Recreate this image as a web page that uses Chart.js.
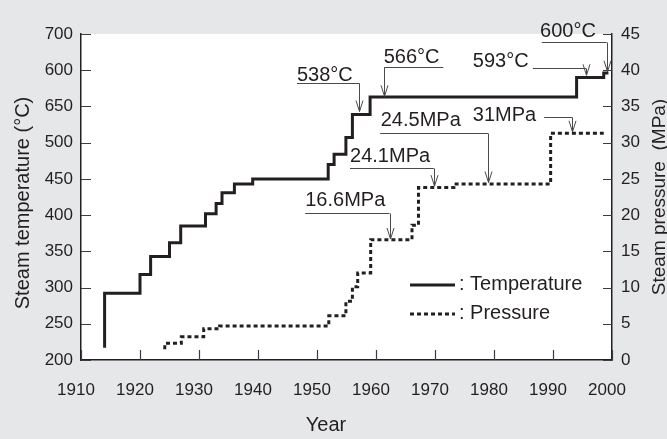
<!DOCTYPE html>
<html>
<head>
<meta charset="utf-8">
<script src="https://cdn.jsdelivr.net/npm/chart.js@4.4.0/dist/chart.umd.min.js"></script>
<style>
  html, body { margin: 0; padding: 0; background: #e6e7e8; }
  #wrap { position: relative; width: 667px; height: 439px; }
</style>
</head>
<body>
<div id="wrap"><canvas id="steamChart"></canvas></div>
<script>
// step data (value holds until the next year)
const tempYears = [1914, 1914, 1920, 1921.8, 1925, 1926.9, 1931.1, 1932.9, 1933.9, 1936, 1939.1, 1951.9, 1952.9, 1954.9, 1956, 1959, 1994, 1998.6, 1999.4];
const tempValues = [217, 292, 318, 343, 362, 385, 402, 416, 431, 443, 450, 470, 484, 507, 539, 563, 590, 596, 596];

const pressYears = [1924.2, 1924.2, 1927, 1930.8, 1933.5, 1952, 1954.9, 1956, 1956.9, 1959.1, 1966.1, 1967.2, 1973.2, 1989.6, 1998.6];
const pressValues = [1.5, 2.3, 3.2, 4.3, 4.7, 6.1, 8.1, 10.1, 12.0, 16.6, 18.6, 23.8, 24.3, 31.3, 31.3];

// left axis labels exactly as printed on the figure
const tempTickLabels = ['200', '250', '300', '350', '400', '450', '500', '650', '600', '700'];

// callouts, anchored in data units
const callouts = [
  { text: '538°C', axis: 'y', textX: 1946.6, textY: 593, lineFrom: 1946.6, lineTo: 1957.2, lineY: 583, dropX: 1957.2, tipY: 543 },
  { text: '566°C', axis: 'y', textX: 1961.3, textY: 617, lineFrom: 1961.4, lineTo: 1971.4, lineY: 605, dropX: 1961.4, tipY: 564 },
  { text: '593°C', axis: 'y', textX: 1976.4, textY: 612, lineFrom: 1986.6, lineTo: 1995.6, lineY: 603, dropX: 1995.6, tipY: 593 },
  { text: '600°C', axis: 'y', textX: 1987.8, textY: 653, lineFrom: 1988.1, lineTo: 1999.1, lineY: 639, dropX: 1999.1, tipY: 598 },
  { text: '31MPa', axis: 'y1', textX: 1976.4, textY: 33.8, lineFrom: 1988.5, lineTo: 1993.3, lineY: 33.6, dropX: 1993.3, tipY: 31.5 },
  { text: '24.5MPa', axis: 'y1', textX: 1960.8, textY: 33.0, lineFrom: 1960.7, lineTo: 1979.0, lineY: 31.3, dropX: 1979.0, tipY: 24.5 },
  { text: '24.1MPa', axis: 'y1', textX: 1955.6, textY: 28.1, lineFrom: 1955.6, lineTo: 1969.8, lineY: 26.5, dropX: 1969.8, tipY: 24.0 },
  { text: '16.6MPa', axis: 'y1', textX: 1948.0, textY: 22.0, lineFrom: 1948.0, lineTo: 1962.3, lineY: 20.25, dropX: 1962.3, tipY: 16.7 }
];

const ink = '#231f20';
const fontFamily = '"Liberation Sans", Arial, Helvetica, sans-serif';

function toPoints(xs, ys) {
  return xs.map((x, i) => ({ x: x, y: ys[i] }));
}

// white plot area on the grey page
const plotBackground = {
  id: 'plotBackground',
  beforeDraw(chart) {
    const { ctx, chartArea } = chart;
    ctx.save();
    ctx.fillStyle = '#ffffff';
    ctx.fillRect(chartArea.left, chartArea.top, chartArea.right - chartArea.left, chartArea.bottom - chartArea.top);
    ctx.restore();
  }
};

// tick marks pointing into the plot
const innerTicks = {
  id: 'innerTicks',
  afterDatasetsDraw(chart) {
    const { ctx, chartArea, scales } = chart;
    ctx.save();
    ctx.strokeStyle = '#3c3c3c';
    ctx.lineWidth = 1.2;
    ctx.beginPath();
    scales.x.ticks.forEach(t => {
      const px = Math.round(scales.x.getPixelForValue(t.value)) + 0.5;
      ctx.moveTo(px, chartArea.bottom);
      ctx.lineTo(px, chartArea.bottom - 10);
    });
    scales.y.ticks.forEach(t => {
      const py = Math.round(scales.y.getPixelForValue(t.value)) + 0.5;
      ctx.moveTo(chartArea.left, py);
      ctx.lineTo(chartArea.left + 10, py);
    });
    scales.y1.ticks.forEach(t => {
      const py = Math.round(scales.y1.getPixelForValue(t.value)) + 0.5;
      ctx.moveTo(chartArea.right, py);
      ctx.lineTo(chartArea.right - 9, py);
    });
    ctx.stroke();
    ctx.restore();
  }
};

const calloutLabels = {
  id: 'calloutLabels',
  afterDatasetsDraw(chart) {
    const { ctx, scales } = chart;
    const x = scales.x;
    ctx.save();
    ctx.font = '20px ' + fontFamily;
    ctx.textBaseline = 'middle';
    ctx.textAlign = 'left';
    callouts.forEach(c => {
      const y = scales[c.axis];
      ctx.fillStyle = ink;
      ctx.fillText(c.text, x.getPixelForValue(c.textX), y.getPixelForValue(c.textY));
      const lineY = Math.round(y.getPixelForValue(c.lineY)) + 0.5;
      const dropX = Math.round(x.getPixelForValue(c.dropX)) + 0.5;
      const tipY = y.getPixelForValue(c.tipY);
      ctx.strokeStyle = '#4a4a4a';
      ctx.lineWidth = 1;
      ctx.beginPath();
      ctx.moveTo(x.getPixelForValue(c.lineFrom), lineY);
      ctx.lineTo(x.getPixelForValue(c.lineTo), lineY);
      ctx.moveTo(dropX, lineY);
      ctx.lineTo(dropX, tipY);
      ctx.moveTo(dropX - 3.5, tipY - 11);
      ctx.lineTo(dropX, tipY);
      ctx.lineTo(dropX + 3.5, tipY - 11);
      ctx.stroke();
    });
    ctx.restore();
  }
};

// legend inside the plot and the three axis titles
const legendAndTitles = {
  id: 'legendAndTitles',
  afterDraw(chart) {
    const { ctx, chartArea } = chart;
    ctx.save();
    ctx.fillStyle = ink;
    ctx.font = '20px ' + fontFamily;
    ctx.textBaseline = 'middle';
    ctx.textAlign = 'left';
    const lx = chartArea.left + 329;
    const rows = [chartArea.top + 250, chartArea.top + 279];
    chart.data.datasets.forEach((ds, i) => {
      ctx.strokeStyle = ink;
      ctx.lineWidth = 3;
      ctx.setLineDash(ds.borderDash || []);
      ctx.beginPath();
      ctx.moveTo(lx, rows[i] + 1);
      ctx.lineTo(lx + 45, rows[i] + 1);
      ctx.stroke();
      ctx.setLineDash([]);
      ctx.fillText(ds.label, lx + 49, rows[i]);
    });

    ctx.textBaseline = 'alphabetic';
    ctx.textAlign = 'center';
    ctx.fillText('Year', 326, 431);

    ctx.translate(29, 203);
    ctx.rotate(-Math.PI / 2);
    ctx.fillText('Steam temperature (°C)', 0, 0);
    ctx.restore();

    ctx.save();
    ctx.fillStyle = ink;
    ctx.font = '19px ' + fontFamily;
    ctx.textAlign = 'center';
    ctx.translate(665, 197);
    ctx.rotate(-Math.PI / 2);
    ctx.fillText('Steam pressure  (MPa)', 0, 0);
    ctx.restore();
  }
};

const tickFont = { family: fontFamily, size: 17 };

new Chart(document.getElementById('steamChart'), {
  type: 'line',
  data: {
    datasets: [{
      label: ': Temperature',
      data: toPoints(tempYears, tempValues),
      yAxisID: 'y',
      stepped: 'before',
      borderColor: ink,
      borderWidth: 3,
      pointRadius: 0,
      fill: false
    }, {
      label: ': Pressure',
      data: toPoints(pressYears, pressValues),
      yAxisID: 'y1',
      stepped: 'before',
      borderColor: ink,
      borderWidth: 3,
      borderDash: [4, 3],
      borderCapStyle: 'butt',
      pointRadius: 0,
      fill: false
    }]
  },
  options: {
    responsive: true,
    maintainAspectRatio: false,
    animation: false,
    layout: { padding: { top: 34, left: 0, right: 0, bottom: 0 } },
    plugins: {
      legend: { display: false },
      tooltip: { enabled: false }
    },
    scales: {
      x: {
        type: 'linear',
        min: 1910,
        max: 2000,
        grid: { drawOnChartArea: false, drawTicks: false },
        border: { color: ink, width: 1.5 },
        ticks: { stepSize: 10, color: ink, font: tickFont, padding: 20, labelOffset: -5, maxRotation: 0, callback: v => String(v) },
        afterFit: s => { s.height = 79; }
      },
      y: {
        position: 'left',
        min: 200,
        max: 650,
        grid: { drawOnChartArea: false, drawTicks: false },
        border: { color: ink, width: 1.5 },
        ticks: { stepSize: 50, color: ink, font: tickFont, padding: 8, callback: (v, i) => tempTickLabels[i] },
        afterFit: s => { s.width = 81; }
      },
      y1: {
        position: 'right',
        min: 0,
        max: 45,
        grid: { drawOnChartArea: false, drawTicks: false },
        border: { color: ink, width: 1.5 },
        ticks: { stepSize: 5, color: ink, font: tickFont, padding: 9 },
        afterFit: s => { s.width = 55; }
      }
    }
  },
  plugins: [plotBackground, innerTicks, calloutLabels, legendAndTitles]
});
</script>
</body>
</html>
